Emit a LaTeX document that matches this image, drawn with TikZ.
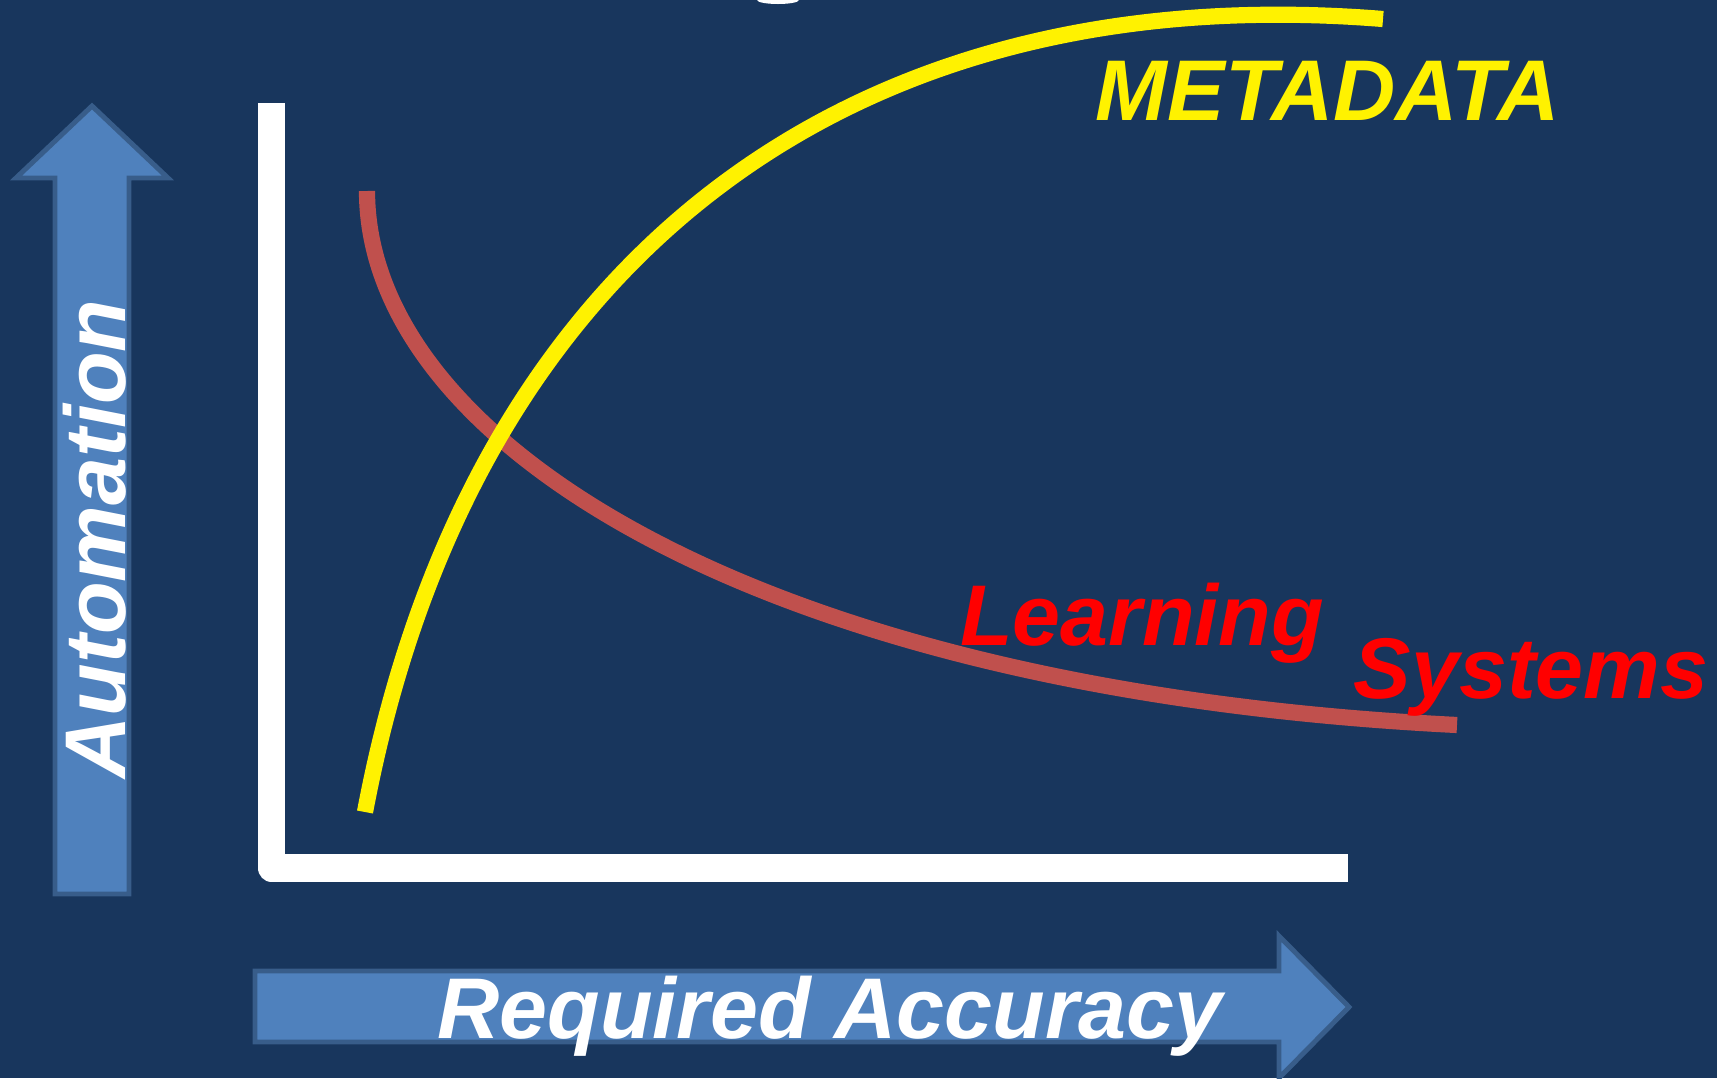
\documentclass[tikz,border=0pt]{standalone}
\usepackage{fontspec}
\setmainfont{Liberation Sans}
\definecolor{slidebg}{HTML}{18365D}
\definecolor{arrowfill}{HTML}{4F81BD}
\definecolor{arrowline}{HTML}{385D8A}
\definecolor{curvered}{HTML}{C0504D}
\tikzset{
  bigarrow/.style={fill=arrowfill, draw=arrowline, line width=1.4pt, line join=miter},
  curve/.style={line width=4.6pt},
  curvetext/.style={font=\fontsize{24.5}{29}\selectfont\bfseries\itshape, inner sep=0pt, anchor=base},
}
\begin{document}
\begin{tikzpicture}[x=0.01cm, y=-0.01cm]
  \useasboundingbox (0,0) rectangle (1717,1078);
  \clip (0,0) rectangle (1717,1078);
  \fill [slidebg] (0,0) rectangle (1717,1078);
  % tail of the clipped title
  \fill [white] (778,0) ellipse [x radius=21, y radius=4];

  % the two big arrows
  \draw [bigarrow] (92,106) -- (168,178) -- (129,178) -- (129,894)
    -- (55,894) -- (55,178) -- (16,178) -- cycle;
  \draw [bigarrow] (255,971) -- (1279,971) -- (1279,936) -- (1349,1007)
    -- (1279,1078) -- (1279,1042) -- (255,1042) -- cycle;

  % axes
  \draw [white, line width=7.7pt, line join=round]
    (271.5,103) coordinate (ytop)
    (271.5,868) coordinate (origin)
    (1348,868) coordinate (xend)
    (ytop) -- (origin) -- (xend);

  % curves
  \draw [curve, curvered] (367,191) coordinate (learn start)
    .. controls (367,441) and (757,690) .. (1457,725) coordinate (learn end);
  \draw [curve, yellow] (365,812) coordinate (meta start)
    .. controls (467,271) and (835,-25) .. (1383,19) coordinate (meta end);

  % texts
  \node [curvetext, yellow] (metadata) at (1328,120) {METADATA};
  \node [curvetext, red] (learning) at (1142,645) {Learning};
  \node [curvetext, red] (systems) at (1531,698) {Systems};
  \node [curvetext, white] (accuracy) at (830,1038) {Required Accuracy};
  \node [curvetext, white, rotate=90] (automation) at (126,539) {Automation};
\end{tikzpicture}
\end{document}
